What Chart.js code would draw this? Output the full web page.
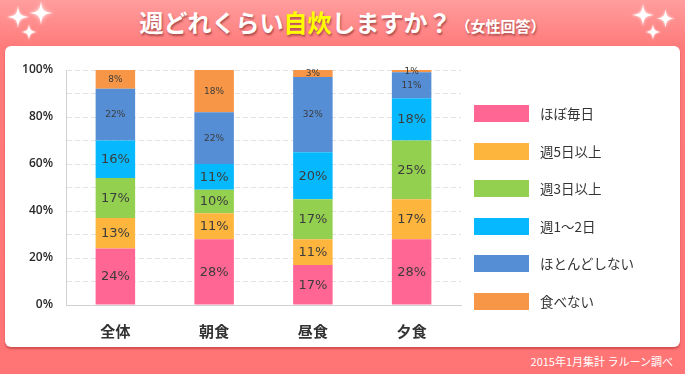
<!DOCTYPE html>
<html lang="ja">
<head>
<meta charset="utf-8">
<script src="https://cdn.jsdelivr.net/npm/chart.js@4/dist/chart.umd.min.js"></script>
<style>
  html, body { margin: 0; padding: 0; }
  body {
    width: 685px; height: 374px; overflow: hidden; position: relative;
    background: linear-gradient(#ff9d9d 0px, #ff7b7b 46px, #ff7474 374px);
    font-family: "Noto Sans CJK JP", sans-serif;
  }
  #sparkles { position: absolute; left: 0; top: 0; }
  #title {
    position: absolute; left: 0; top: 7px; width: 685px; text-align: center;
    color: #fff; font-weight: bold; font-size: 24px; line-height: 30px;
    text-shadow: 1px 2px 2px rgba(150, 60, 60, 0.75);
    white-space: nowrap;
  }
  #title .hl { color: #ffff00; }
  #title small { font-size: 15px; margin-left: 4px; }
  #card {
    position: absolute; left: 5px; top: 46px; width: 675px; height: 301px;
    background: #fff; border-radius: 6px;
    box-shadow: 0 2px 2px rgba(170, 50, 50, 0.55);
  }
  #chart { position: absolute; left: 0; top: 0; }
  #legend { position: absolute; left: 469px; top: 59px; margin: 0; padding: 0; list-style: none; }
  #legend li { height: 37.5px; display: flex; align-items: flex-start; }
  #legend .box { width: 55px; height: 17px; margin-right: 11px; }
  #legend .txt { font-size: 13.5px; line-height: 17px; color: #333; }
  #footer {
    position: absolute; right: 12px; top: 353px; color: #fff; font-size: 11px; line-height: 16px;
  }
</style>
</head>
<body>
<svg id="sparkles" width="685" height="50">
  <defs>
    <filter id="glow" x="-50%" y="-50%" width="200%" height="200%">
      <feGaussianBlur stdDeviation="1.6"/>
    </filter>
    <symbol id="star" viewBox="-10 -10 20 20" overflow="visible">
      <path d="M0,-10 C1,-2 2,-1 10,0 C2,1 1,2 0,10 C-1,2 -2,1 -10,0 C-2,-1 -1,-2 0,-10Z" fill="#fff" filter="url(#glow)" opacity="0.9"/>
      <path d="M0,-10 C1,-2 2,-1 10,0 C2,1 1,2 0,10 C-1,2 -2,1 -10,0 C-2,-1 -1,-2 0,-10Z" fill="#fff"/>
    </symbol>
  </defs>
  <use href="#star" x="7" y="6" width="22" height="22"/>
  <use href="#star" x="29" y="1" width="24" height="24"/>
  <use href="#star" x="21" y="24" width="16" height="16"/>
  <use href="#star" x="632" y="4" width="22" height="22"/>
  <use href="#star" x="656" y="9" width="19" height="19"/>
  <use href="#star" x="645" y="24" width="16" height="16"/>
</svg>
<div id="title">週どれくらい<span class="hl">自炊</span>しますか？<small>（女性回答）</small></div>
<div id="card">
  <canvas id="chart" width="675" height="301"></canvas>
  <ul id="legend"></ul>
</div>
<div id="footer">2015年1月集計 ラルーン調べ</div>
<script>
(() => {
  'use strict';

  // ---------- data ----------
  const categories = ['全体', '朝食', '昼食', '夕食'];
  const seriesNames = ['ほぼ毎日', '週5日以上', '週3日以上', '週1～2日', 'ほとんどしない', '食べない'];
  const everyDay = [24, 28, 17, 28];
  const fiveDays = [13, 11, 11, 17];
  const threeDays = [17, 10, 17, 25];
  const oneTwoDays = [16, 11, 20, 18];
  const rarely = [22, 22, 32, 11];
  const skipMeal = [8, 18, 3, 1];
  const seriesColors = ['#ff6694', '#fdb53d', '#94d050', '#06b9fe', '#558ed5', '#f79646'];
  const yMax = 100;

  const seriesValues = [everyDay, fiveDays, threeDays, oneTwoDays, rarely, skipMeal];

  // ---------- value labels inside the bars ----------
  const barLabels = {
    id: 'barLabels',
    afterDatasetsDraw(chart) {
      const ctx = chart.ctx;
      ctx.save();
      ctx.textAlign = 'center';
      ctx.textBaseline = 'middle';
      ctx.fillStyle = '#3c3c3c';
      chart.data.datasets.forEach((ds, i) => {
        const meta = chart.getDatasetMeta(i);
        // the two top series use a smaller font in the original
        ctx.font = i >= 4 ? '9px "DejaVu Sans"' : '13px "DejaVu Sans"';
        meta.data.forEach((bar, j) => {
          const y = (bar.y + bar.base) / 2;
          ctx.fillText(ds.data[j] + '%', bar.x, y + 0.5);
        });
      });
      ctx.restore();
    },
  };

  const chart = new Chart(document.getElementById('chart'), {
    type: 'bar',
    data: {
      labels: categories,
      datasets: seriesNames.map((name, i) => ({
        label: name,
        data: seriesValues[i],
        backgroundColor: seriesColors[i],
        borderWidth: 0,
        categoryPercentage: 1,
        barPercentage: 0.4,
      })),
    },
    options: {
      responsive: false,
      animation: false,
      devicePixelRatio: 1,
      layout: { padding: { left: 0, top: 24, right: 219, bottom: 0 } },
      plugins: {
        legend: { display: false },
        tooltip: { enabled: false },
      },
      scales: {
        x: {
          stacked: true,
          grid: { display: false, drawTicks: false },
          border: { color: '#d0d0d0', width: 1 },
          ticks: {
            color: '#333',
            padding: 17,
            font: { family: '"Noto Sans CJK JP"', size: 15, weight: 'bold' },
          },
          afterFit(scale) { scale.height = 42; },
        },
        y: {
          stacked: true,
          min: 0,
          max: yMax,
          grid: { color: '#e2e2e2', drawTicks: false },
          border: { color: '#d0d0d0', width: 1, dash: [5, 3] },
          ticks: {
            stepSize: 10,
            autoSkip: false,
            padding: 13,
            color: '#2a2a2a',
            font: { family: '"Open Sans"', size: 12, weight: '600' },
            callback: (v) => (v % 20 === 0 ? v + '%' : ''),
          },
          afterFit(scale) { scale.width = 61; },
        },
      },
    },
    plugins: [barLabels],
  });

  // ---------- legend (HTML, built from the chart's datasets) ----------
  const legend = document.getElementById('legend');
  const items = Chart.defaults.plugins.legend.labels.generateLabels(chart);
  legend.innerHTML = items.map(it => `
    <li><span class="box" style="background:${it.fillStyle}"></span><span class="txt">${it.text}</span></li>
  `).join('');
})();
</script>
</body>
</html>
